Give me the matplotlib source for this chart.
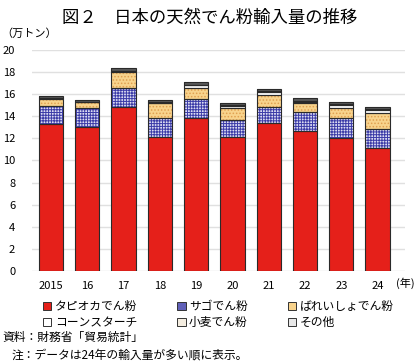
import numpy as np
import matplotlib
matplotlib.use('Agg')
import matplotlib.pyplot as plt
from matplotlib.patches import Patch

plt.rcParams['font.family'] = ['Noto Sans CJK JP', 'DejaVu Sans']
plt.rcParams['hatch.linewidth'] = 0.7

years = ['2015', '16', '17', '18', '19', '20', '21', '22', '23', '24']
tapioca = [13.31, 13.07, 14.88, 12.10, 13.83, 12.10, 13.43, 12.68, 12.04, 11.10]
sago = [1.66, 1.66, 1.70, 1.78, 1.72, 1.55, 1.45, 1.75, 1.82, 1.73]
potato = [0.64, 0.55, 1.48, 1.31, 1.03, 1.09, 1.03, 0.76, 0.93, 1.51]
corn = [0.05, 0.03, 0.04, 0.05, 0.22, 0.15, 0.25, 0.15, 0.20, 0.20]
wheat = [0.04, 0.03, 0.04, 0.04, 0.08, 0.10, 0.10, 0.08, 0.10, 0.10]
other = [0.15, 0.18, 0.23, 0.21, 0.22, 0.20, 0.20, 0.22, 0.25, 0.22]

names = ['タピオカでん粉', 'サゴでん粉', 'ばれいしょでん粉', 'コーンスターチ', '小麦でん粉', 'その他']
series = [tapioca, sago, potato, corn, wheat, other]
faces = ['#e5201a', '#dcdcf2', '#f8d38c', '#ffffff', '#f4ede0', '#5a5a5a']
hatches = [None, '++++++', '.....', None, '...', None]
hcols = [None, '#3c3ca8', '#e0a050', None, '#a09080', None]
legend_faces = ['#e5201a', '#6060b8', '#f8d38c', '#ffffff', '#f4ede0', '#e8e8e8']

fig = plt.figure(figsize=(4.2, 3.63), dpi=100)
ax = fig.add_axes([0.076, 0.254, 0.888, 0.608])

x = np.arange(len(years))
w = 0.67
bottom = np.zeros(len(years))
for vals, fc, h, hc in zip(series, faces, hatches, hcols):
    vals = np.array(vals)
    if h:
        ax.bar(x, vals, w, bottom=bottom, color=fc, hatch=h, edgecolor=hc, linewidth=0, zorder=2)
    else:
        ax.bar(x, vals, w, bottom=bottom, color=fc, linewidth=0, zorder=2)
    ax.bar(x, vals, w, bottom=bottom, fill=False, edgecolor='#2a2a2a', linewidth=0.8, zorder=3)
    bottom += vals

ax.set_ylim(0, 20)
ax.set_xlim(-0.52, len(years) - 0.25)
ax.set_yticks(range(0, 21, 2))
ax.set_xticks(x)
ax.set_xticklabels(years)
ax.yaxis.grid(True, color='#e0e0e0', linewidth=1)
ax.set_axisbelow(True)
for s in ax.spines.values():
    s.set_visible(False)
ax.tick_params(length=0, labelsize=8, pad=7)
ax.tick_params(axis='y', pad=12)

fig.text(0.5, 0.952, '図２　日本の天然でん粉輸入量の推移', ha='center', va='center', fontsize=12.5)
fig.text(0.004, 0.908, '（万トン）', ha='left', va='center', fontsize=8)
fig.text(0.944, 0.221, '(年)', ha='left', va='center', fontsize=8)

handles = [Patch(facecolor=fc, edgecolor='#333333', linewidth=0.7) for fc in legend_faces]
order = [0, 3, 1, 4, 2, 5]
fig.legend([handles[i] for i in order], [names[i] for i in order], ncol=3,
           loc='center', bbox_to_anchor=(0.52, 0.133), frameon=False, fontsize=8.5,
           handlelength=0.7, handleheight=0.7, handletextpad=0.3, columnspacing=3.4,
           labelspacing=0.25)

fig.text(0.005, 0.07, '資料：財務省「貿易統計」', ha='left', va='center', fontsize=8.5)
fig.text(0.028, 0.022, '注：データは24年の輸入量が多い順に表示。', ha='left', va='center', fontsize=8.5)

fig.savefig('out.png', dpi=100)
